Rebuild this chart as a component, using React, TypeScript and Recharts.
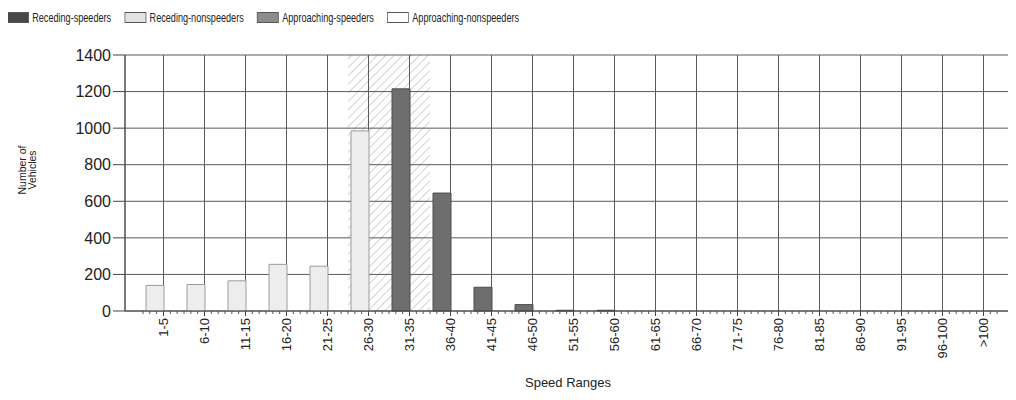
import React from 'react';
import { BarChart, Bar, XAxis, YAxis, CartesianGrid, Legend, ReferenceArea, Label } from 'recharts';

// Speed ranges on the x axis
const speedRanges = [
  '1-5', '6-10', '11-15', '16-20', '21-25', '26-30', '31-35', '36-40', '41-45', '46-50', '51-55',
  '56-60', '61-65', '66-70', '71-75', '76-80', '81-85', '86-90', '91-95', '96-100', '>100',
];

// Vehicle counts per range
const recedingSpeeders = [0, 0, 0, 0, 0, 0, 1215, 645, 130, 35, 4, 4, 0, 0, 0, 0, 0, 0, 0, 0, 0];
const recedingNonspeeders = [140, 145, 165, 255, 245, 985, 0, 0, 0, 0, 0, 0, 0, 0, 0, 0, 0, 0, 0, 0, 0];
const approachingSpeeders = [0, 0, 0, 0, 0, 0, 0, 0, 0, 0, 0, 0, 0, 0, 0, 0, 0, 0, 0, 0, 0];
const approachingNonspeeders = [0, 0, 0, 0, 0, 0, 0, 0, 0, 0, 0, 0, 0, 0, 0, 0, 0, 0, 0, 0, 0];

const yTicks = [0, 200, 400, 600, 800, 1000, 1200, 1400];
const limitBand = ['26-30', '31-35'];

const series = [
  { key: 'recedingSpeeders', name: 'Receding-speeders', stack: 'receding', fill: '#6e6e6e', stroke: '#4c4c4c', swatch: '#484848' },
  { key: 'recedingNonspeeders', name: 'Receding-nonspeeders', stack: 'receding', fill: '#ededed', stroke: '#9c9c9c', swatch: '#e2e2e2' },
  { key: 'approachingSpeeders', name: 'Approaching-speeders', stack: 'approaching', fill: '#8c8c8c', stroke: '#6a6a6a', swatch: '#8c8c8c' },
  { key: 'approachingNonspeeders', name: 'Approaching-nonspeeders', stack: 'approaching', fill: '#ffffff', stroke: '#555555', swatch: '#ffffff' },
];

const data = speedRanges.map((range, i) => ({
  range,
  recedingSpeeders: recedingSpeeders[i],
  recedingNonspeeders: recedingNonspeeders[i],
  approachingSpeeders: approachingSpeeders[i],
  approachingNonspeeders: approachingNonspeeders[i],
}));

const FONT = '"Liberation Sans", Arial, sans-serif';
const CHART_W = 1022;
const CHART_H = 384;
const Y_W = 117;
const PAD_L = 18;
const PAD_R = 26;
const bandW = (CHART_W - Y_W - PAD_L - PAD_R) / speedRanges.length;

const SpeedTick = (props: any) => {
  const { x, y, payload } = props;
  const minors = [-3, -2, -1, 1, 2].map((k) => x + (k * bandW) / 6);
  return (
    <g>
      {minors.map((mx, i) => (
        <line key={i} x1={mx} x2={mx} y1={y} y2={y + 3} stroke="#555" />
      ))}
      <line x1={x} x2={x} y1={y} y2={y + 5} stroke="#444" />
      <text
        x={x}
        y={y + 7}
        dy="0.35em"
        transform={`rotate(-90 ${x} ${y + 7})`}
        textAnchor="end"
        fontFamily={FONT}
        fontSize={13}
        fill="#222"
      >
        {payload.value}
      </text>
    </g>
  );
};

// the scan's legend uses a narrow face, so squeeze it horizontally
const renderLegend = () => (
  <div
    style={{
      display: 'flex',
      fontFamily: FONT,
      fontSize: 13,
      color: '#222',
      alignItems: 'center',
      transform: 'scaleX(0.7)',
      transformOrigin: 'left center',
      whiteSpace: 'nowrap',
    }}
  >
    {series.map((s) => (
      <div key={s.key} style={{ display: 'flex', alignItems: 'center', marginRight: 19 }}>
        <span
          style={{
            display: 'inline-block',
            width: 29,
            height: 9,
            background: s.swatch,
            border: '1px solid #555',
            marginRight: 5,
          }}
        />
        <span>{s.name}</span>
      </div>
    ))}
  </div>
);

const renderYTitle = (props: any) => {
  const vb = props.viewBox;
  const cx = vb.x + 18;
  const cy = vb.y + 115;
  return (
    <text transform={`translate(${cx} ${cy}) rotate(-90)`} textAnchor="middle" fontFamily={FONT} fontSize={10.5} fill="#222">
      <tspan x={0} dy={0}>Number of</tspan>
      <tspan x={0} dy={9.5}>Vehicles</tspan>
    </text>
  );
};

const renderXTitle = (props: any) => {
  const vb = props.viewBox;
  return (
    <text x={vb.x + 443} y={vb.y + 76} textAnchor="middle" fontFamily={FONT} fontSize={13} fill="#222">
      Speed Ranges
    </text>
  );
};

export default function App() {
  return (
    <div style={{ width: 1008, height: CHART_H, overflow: 'hidden' }}>
      <BarChart
        width={CHART_W}
        height={CHART_H}
        data={data}
        margin={{ top: 47, right: 0, bottom: 5, left: 0 }}
        barCategoryGap={3}
        barGap={0}
      >
        <defs>
          <pattern id="hatch" width="6" height="6" patternUnits="userSpaceOnUse" patternTransform="rotate(45)">
            <line x1="0" y1="0" x2="0" y2="6" stroke="#c8c8c8" strokeWidth="1.6" />
          </pattern>
        </defs>
        <ReferenceArea
          x1={limitBand[0]}
          x2={limitBand[1]}
          fill="url(#hatch)"
          fillOpacity={1}
          stroke="none"
          zIndex={-200}
        />
        <CartesianGrid stroke="#5a5a5a" strokeWidth={1} />
        <XAxis
          dataKey="range"
          interval={0}
          height={76}
          padding={{ left: PAD_L, right: PAD_R }}
          tickLine={false}
          tickSize={0}
          tickMargin={0}
          axisLine={{ stroke: '#444' }}
          tick={<SpeedTick />}
        >
          <Label content={renderXTitle} />
        </XAxis>
        <YAxis
          width={Y_W}
          domain={[0, 1400]}
          ticks={yTicks}
          tickSize={12}
          tickMargin={2}
          axisLine={{ stroke: '#444' }}
          tickLine={{ stroke: '#444' }}
          tick={{ fontFamily: FONT, fontSize: 16, fill: '#222' }}
        >
          <Label content={renderYTitle} />
        </YAxis>
        <Legend
          verticalAlign="middle"
          align="center"
          content={renderLegend}
          wrapperStyle={{ top: 2, left: -1, width: 900 }}
        />
        {series.map((s) => (
          <Bar
            key={s.key}
            dataKey={s.key}
            name={s.name}
            stackId={s.stack}
            fill={s.fill}
            stroke={s.stroke}
            strokeWidth={1}
            isAnimationActive={false}
          />
        ))}
      </BarChart>
    </div>
  );
}
